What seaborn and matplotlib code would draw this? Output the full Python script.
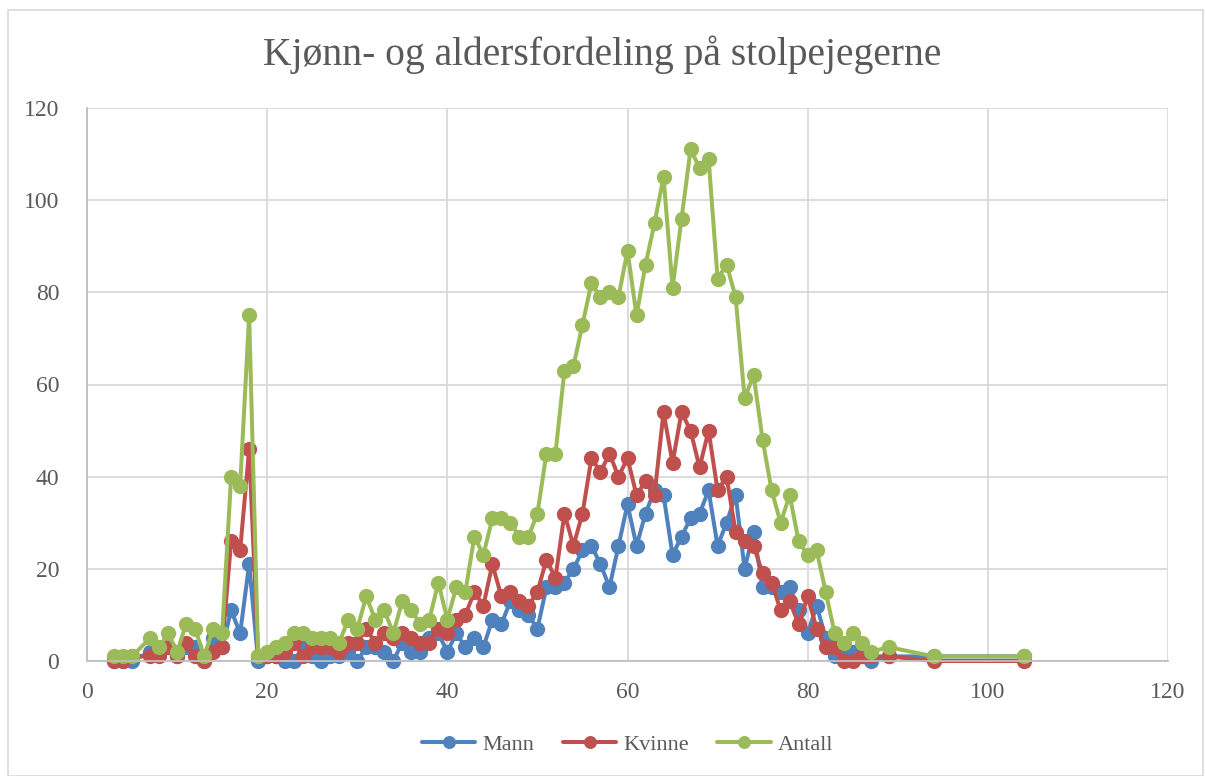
import matplotlib
matplotlib.use("Agg")
import matplotlib.pyplot as plt
import seaborn as sns
import pandas as pd

ages = [3, 4, 5, 7, 8, 9, 10, 11, 12, 13, 14, 15, 16, 17, 18, 19,
        20, 21, 22, 23, 24, 25, 26, 27, 28, 29, 30, 31, 32, 33, 34, 35, 36, 37, 38, 39,
        40, 41, 42, 43, 44, 45, 46, 47, 48, 49, 50, 51, 52, 53, 54, 55, 56, 57, 58, 59,
        60, 61, 62, 63, 64, 65, 66, 67, 68, 69, 70, 71, 72, 73, 74, 75, 76, 77, 78, 79,
        80, 81, 82, 83, 84, 85, 86, 87, 89, 94, 104]

mann = [0, 0, 0, 2, 2, 3, 1, 3, 3, 0, 5, 3, 11, 6, 21, 0,
        1, 1, 0, 0, 3, 1, 0, 1, 1, 2, 0, 3, 3, 2, 0, 4, 2, 2, 5, 6,
        2, 6, 3, 5, 3, 9, 8, 13, 11, 10, 7, 16, 16, 17, 20, 24, 25, 21, 16, 25,
        34, 25, 32, 37, 36, 23, 27, 31, 32, 37, 25, 30, 36, 20, 28, 16, 16, 15, 16, 11,
        6, 12, 5, 1, 1, 2, 1, 0, 1, 1, 1]

kvinne = [0, 0, 1, 1, 1, 3, 1, 4, 1, 0, 2, 3, 26, 24, 46, 1,
          1, 1, 2, 4, 1, 3, 3, 3, 2, 4, 4, 7, 4, 6, 5, 6, 5, 4, 4, 7,
          6, 9, 10, 15, 12, 21, 14, 15, 13, 12, 15, 22, 18, 32, 25, 32, 44, 41, 45, 40,
          44, 36, 39, 36, 54, 43, 54, 50, 42, 50, 37, 40, 28, 26, 25, 19, 17, 11, 13, 8,
          14, 7, 3, 3, 0, 0, 1, 1, 1, 0, 0]

antall = [1, 1, 1, 5, 3, 6, 2, 8, 7, 1, 7, 6, 40, 38, 75, 1,
          2, 3, 4, 6, 6, 5, 5, 5, 4, 9, 7, 14, 9, 11, 6, 13, 11, 8, 9, 17,
          9, 16, 15, 27, 23, 31, 31, 30, 27, 27, 32, 45, 45, 63, 64, 73, 82, 79, 80, 79,
          89, 75, 86, 95, 105, 81, 96, 111, 107, 109, 83, 86, 79, 57, 62, 48, 37, 30, 36, 26,
          23, 24, 15, 6, 4, 6, 4, 2, 3, 1, 1]

series_names = ["Mann", "Kvinne", "Antall"]
colors = ["#4F81BD", "#C0504D", "#9BBB59"]
x_ticks = [0, 20, 40, 60, 80, 100, 120]
y_ticks = [0, 20, 40, 60, 80, 100, 120]
title = "Kjønn- og aldersfordeling på stolpejegerne"

df = pd.concat([
    pd.DataFrame({"Alder": ages, "Verdi": vals, "Serie": name})
    for name, vals in zip(series_names, [mann, kvinne, antall])
], ignore_index=True)

sns.set_theme(style="white")
plt.rcParams["font.family"] = ["Liberation Serif", "DejaVu Serif"]

fig = plt.figure(figsize=(12.05, 7.76), dpi=100)
ax = fig.add_axes([87 / 1205, 1 - 661 / 776, (1168 - 87) / 1205, (661 - 108) / 776])

sns.lineplot(data=df, x="Alder", y="Verdi", hue="Serie", hue_order=series_names,
             palette=colors, marker="o", markersize=11, markeredgewidth=0,
             linewidth=2.9, ax=ax, sort=False, estimator=None, legend=True)
for ln in ax.lines:
    ln.set_clip_on(False)

ax.set_xlim(0, 120)
ax.set_ylim(0, 120)
ax.set_xticks(x_ticks)
ax.set_yticks(y_ticks)
ax.set_xlabel("")
ax.set_ylabel("")
ax.grid(True, color="#d9d9d9", linewidth=1.3)
ax.set_axisbelow(True)
for s in ["top", "right"]:
    ax.spines[s].set_visible(False)
for s in ["left", "bottom"]:
    ax.spines[s].set_color("#bfbfbf")
    ax.spines[s].set_linewidth(1.3)
ax.tick_params(axis="both", length=0, labelsize=17, labelcolor="#595959")
ax.tick_params(axis="x", pad=15)
ax.tick_params(axis="y", pad=20)

leg = ax.legend(loc="upper center", bbox_to_anchor=(0.5, -0.097), ncol=3, frameon=False,
                fontsize=16, handlelength=2.4, columnspacing=1.3, handletextpad=0.3,
                markerscale=0.85)
for t in leg.get_texts():
    t.set_color("#595959")

fig.text(0.5, 1 - 55 / 776, title, ha="center", va="center", fontsize=28.5, color="#595959")

border = plt.Rectangle((8 / 1205, 0), 1 - 10 / 1205, 1 - 10 / 776, transform=fig.transFigure,
                       fill=False, edgecolor="#d9d9d9", linewidth=1.2)
fig.add_artist(border)

fig.savefig("out.png", dpi=100)
